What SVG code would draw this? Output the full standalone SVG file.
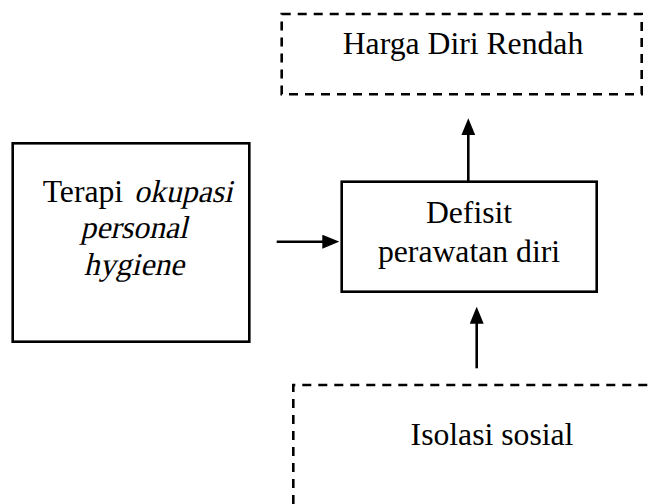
<svg xmlns="http://www.w3.org/2000/svg" width="650" height="504" viewBox="0 0 650 504">
  <style>
    .box { fill: #fff; stroke: #000; stroke-width: 2.6; }
    .dash { fill: none; stroke: #000; stroke-width: 2.6; stroke-dasharray: 9 7; }
    .t { font-family: "Liberation Serif", "Times New Roman", serif; font-size: 31.7px; fill: #000; text-anchor: middle; }
    .s { text-anchor: start; }
    .conn { stroke: #000; stroke-width: 2.6; fill: none; marker-end: url(#ah); }
  </style>
  <defs>
    <marker id="ah" viewBox="0 0 17 14" refX="9" refY="7" markerWidth="17" markerHeight="14" markerUnits="userSpaceOnUse" orient="auto">
      <path d="M0,0 L17,7 L0,14 z" fill="#000"/>
    </marker>
  </defs>
  <rect width="650" height="504" fill="#fff"/>

  <g id="harga-diri-rendah">
    <rect class="dash" x="281.7" y="14" width="360" height="80.3"/>
    <text class="t" x="463" y="54">Harga Diri Rendah</text>
  </g>

  <g id="terapi">
    <rect class="box" x="12.7" y="143.3" width="236.6" height="198.4"/>
    <text class="t s" x="42.7" y="202">Terapi</text>
    <g transform="translate(134,202) skewX(-13)"><text class="t s" x="0" y="0">okupasi</text></g>
    <g transform="translate(134,238) skewX(-13)"><text class="t" x="0" y="0">personal</text></g>
    <g transform="translate(134,275) skewX(-13)"><text class="t" x="0" y="0">hygiene</text></g>
  </g>

  <g id="defisit">
    <rect class="box" x="341.7" y="181.7" width="255" height="110"/>
    <text class="t" x="469" y="222.7">Defisit</text>
    <text class="t" x="469" y="261.7">perawatan diri</text>
  </g>

  <g id="isolasi-sosial">
    <path class="dash" d="M293.3,504 L293.3,385 L660,385"/>
    <text class="t" x="492" y="445">Isolasi sosial</text>
  </g>

  <g id="connectors">
    <line class="conn" x1="276.7" y1="241.7" x2="331.3" y2="241.7"/>
    <line class="conn" x1="468.3" y1="181.7" x2="468.3" y2="126.3"/>
    <line class="conn" x1="476.7" y1="368.3" x2="476.7" y2="314.7"/>
  </g>
</svg>
